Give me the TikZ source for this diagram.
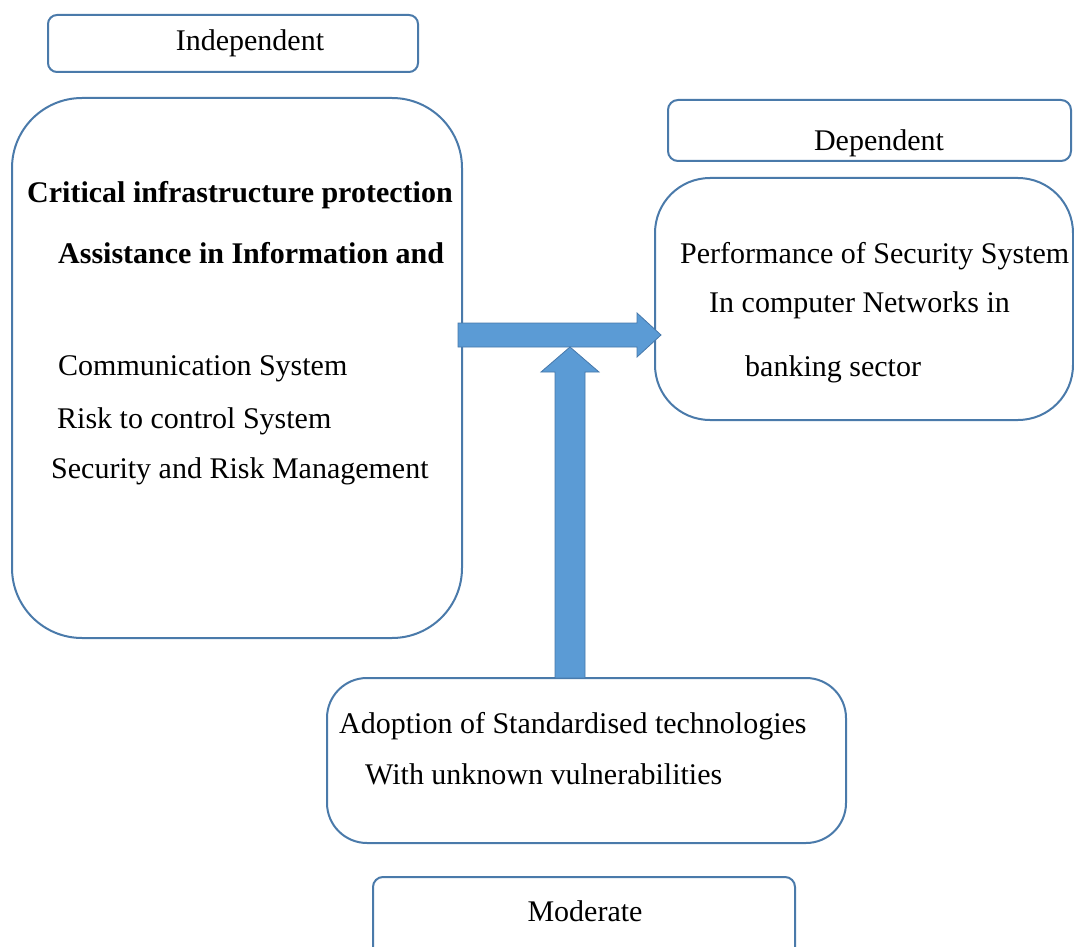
\documentclass[tikz,border=0pt]{standalone}
\usepackage{fontspec}
\setmainfont{Liberation Serif}
\usetikzlibrary{calc}
\definecolor{boxline}{RGB}{74,122,170}
\definecolor{arrowfill}{RGB}{91,155,213}
\definecolor{arrowline}{RGB}{70,120,170}
\begin{document}
\begin{tikzpicture}[x=1pt,y=-1pt,
  box/.style={draw=boxline, line width=2pt, fill=white, inner sep=0pt},
  txt/.style={inner sep=0pt, anchor=west, font=\fontsize{30}{35}\selectfont, text height=20pt, text depth=6pt},
  ctxt/.style={inner sep=0pt, font=\fontsize{30}{35}\selectfont, text height=20pt, text depth=6pt},
  blockarrow/.style={fill=arrowfill, draw=arrowline, line width=0.8pt, line join=miter}]
\useasboundingbox (0,0) rectangle (1074,947);
\clip (0,0) rectangle (1074,947);
% boxes
\node[box, rounded corners=9pt, minimum width=370pt, minimum height=57pt] (indep) at (233,43.5) {};
\node[box, rounded corners=70pt, minimum width=450pt, minimum height=540pt] (left) at (237,368) {};
\node[box, rounded corners=10pt, minimum width=403pt, minimum height=61pt] (dep) at (869.5,130.5) {};
\node[box, rounded corners=55pt, minimum width=418pt, minimum height=242pt] (right) at (864,299) {};
\node[box, rounded corners=40pt, minimum width=519pt, minimum height=165pt] (adopt) at (586.5,760.5) {};
\node[box, rounded corners=10pt, minimum width=422pt, minimum height=83pt] (mod) at (584,918.5) {};
% arrows
\coordinate (hs) at (458,335);
\coordinate (ht) at (661,335);
\fill[blockarrow] ($(hs)+(0,-12)$) -- (637,323) -- (637,313) -- (ht) -- (637,357) -- (637,347) -- ($(hs)+(0,12)$) -- cycle;
\coordinate (vs) at (570,678);
\coordinate (vt) at (570,347);
\fill[blockarrow] ($(vs)+(-15,0)$) -- (555,372) -- (541,372) -- (vt) -- (599,372) -- (585,372) -- ($(vs)+(15,0)$) -- cycle;
% header texts
\node[ctxt] (tindep) at (250,44) {Independent};
\node[ctxt] (tdep) at (879,144) {Dependent};
\node[ctxt] (tmod) at (585,914) {Moderate};
% left box text
\node[txt] (l1) at (27,196) {\bfseries Critical infrastructure protection};
\node[txt] (l2) at (58,256) {\bfseries Assistance in Information and};
\node[txt] (l3) at (58,368) {Communication System};
\node[txt] (l4) at (57,421) {Risk to control System};
\node[txt] (l5) at (51,471) {Security and Risk Management};
% right box text
\node[txt] (r1) at (680,256) {Performance of Security System};
\node[txt] (r2) at (709,305) {In computer Networks in};
\node[txt] (r3) at (745,369) {banking sector};
% adoption text
\node[txt] (a1) at (339,726) {Adoption of Standardised technologies};
\node[txt] (a2) at (365,777) {With unknown vulnerabilities};
\end{tikzpicture}
\end{document}
